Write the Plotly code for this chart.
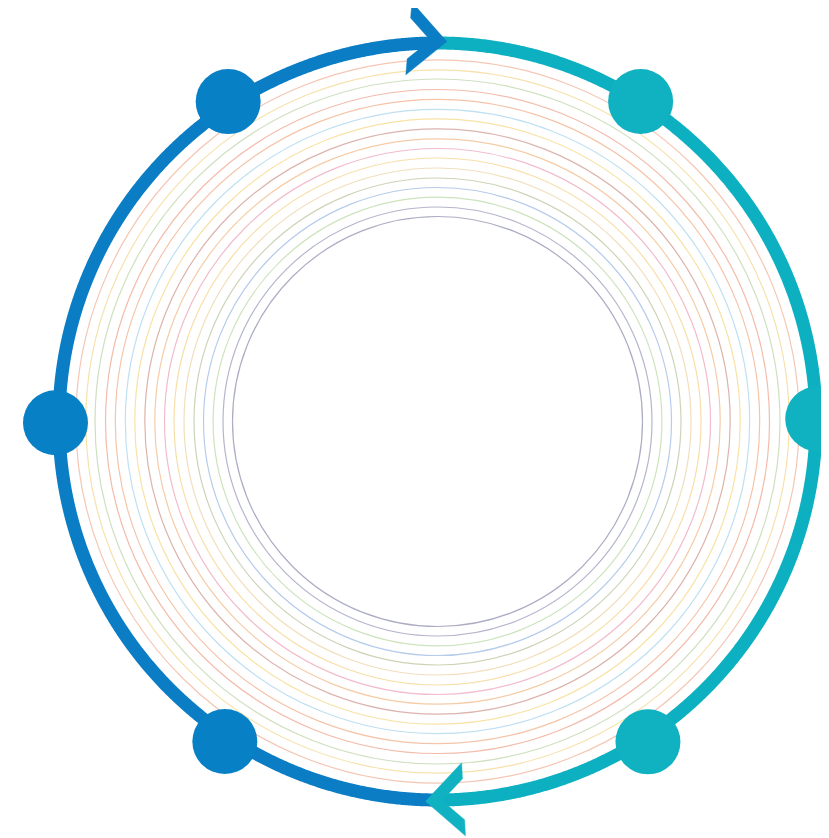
import numpy as np
import plotly.graph_objects as go

# ---- data (radii in px-like units, angles in degrees, counter-clockwise from +x) ----
ring_radii = [361.7, 351.7, 342.5, 332.0, 322.2, 312.2, 302.7, 292.7, 282.7,
              273.0, 263.5, 253.5, 243.5, 234.0, 224.4, 214.5, 205.0]
ring_colors = ["#f5c6b4", "#f7e2ad", "#cfe0bf", "#f3bcaa", "#f5c4a9", "#bfe0f2",
               "#f8e2a6", "#dcb4ad", "#f5cca6", "#f2bccb", "#f8dfaa", "#f2dfbd",
               "#ccd4b6", "#b6cceb", "#cde3bd", "#b5b6cd", "#acadc4"]

outer_radius = 378.5
arc_names = ["left", "right"]
arc_starts = [90, -90]
arc_ends = [270, 90]
arc_colors = ["#0a7dc4", "#0db0c0"]

dot_angles = [180.2, 123.2, 57.6, 0.4, -56.7, -123.6]
dot_radii = [382.0, 382.3, 379.1, 380.2, 383.3, 384.3]
dot_colors = ["#0880c6", "#0880c6", "#10b2c2", "#10b2c2", "#10b2c2", "#0880c6"]

arrow_angles = [88.6, 268.2]
arrow_radius = 380.0
arrow_headings = [-4.8, 183.0]
arrow_colors = ["#0a7dc4", "#10b2c2"]
# chevron outline in local frame (tip at origin, pointing +x)
chev_x = [0, -38, -38, -16.5, -38, -38, 0]
chev_y = [0, 36.5, 20.5, 0, -20.5, -36.5, 0]

fig = go.Figure()

# thin concentric rings
shapes = []
for r, c in zip(ring_radii, ring_colors):
    shapes.append(dict(type="circle", xref="x", yref="y", x0=-r, y0=-r, x1=r, y1=r,
                       line=dict(color=c, width=1.2), layer="below"))

# thick outer ring halves
for name, a0, a1, col in zip(arc_names, arc_starts, arc_ends, arc_colors):
    t = np.radians(np.linspace(a0, a1, 721))
    fig.add_trace(go.Scatter(x=outer_radius * np.cos(t), y=outer_radius * np.sin(t),
                             mode="lines", line=dict(color=col, width=13, simplify=False),
                             name=name, hoverinfo="skip"))

# dots
da = np.radians(dot_angles)
dr = np.array(dot_radii)
fig.add_trace(go.Scatter(x=dr * np.cos(da), y=dr * np.sin(da), mode="markers",
                         marker=dict(size=65, color=dot_colors, line=dict(width=0)),
                         hoverinfo="skip"))

# arrows
cx = np.array(chev_x, dtype=float)
cy = np.array(chev_y, dtype=float)
for ang, hd, col in zip(arrow_angles, arrow_headings, arrow_colors):
    a = np.radians(ang)
    h = np.radians(hd)
    tx, ty = arrow_radius * np.cos(a), arrow_radius * np.sin(a)
    xs = tx + cx * np.cos(h) - cy * np.sin(h)
    ys = ty + cx * np.sin(h) + cy * np.cos(h)
    fig.add_trace(go.Scatter(x=xs, y=ys, mode="lines", fill="toself",
                             fillcolor=col, line=dict(color=col, width=0.5, simplify=False),
                             hoverinfo="skip"))

# the page body adds an 8px margin; the figure is sized/ranged so that the
# drawing lands where it sits in the 829x838 window
fig.update_layout(
    width=821, height=830,
    margin=dict(l=0, r=0, t=0, b=0),
    paper_bgcolor="white", plot_bgcolor="white",
    showlegend=False, hovermode=False,
    shapes=shapes,
    xaxis=dict(range=[-429.5, 391.5], visible=False, fixedrange=True),
    yaxis=dict(range=[-416.5, 413.5], visible=False, fixedrange=True),
)

fig.write_html("out.html")
